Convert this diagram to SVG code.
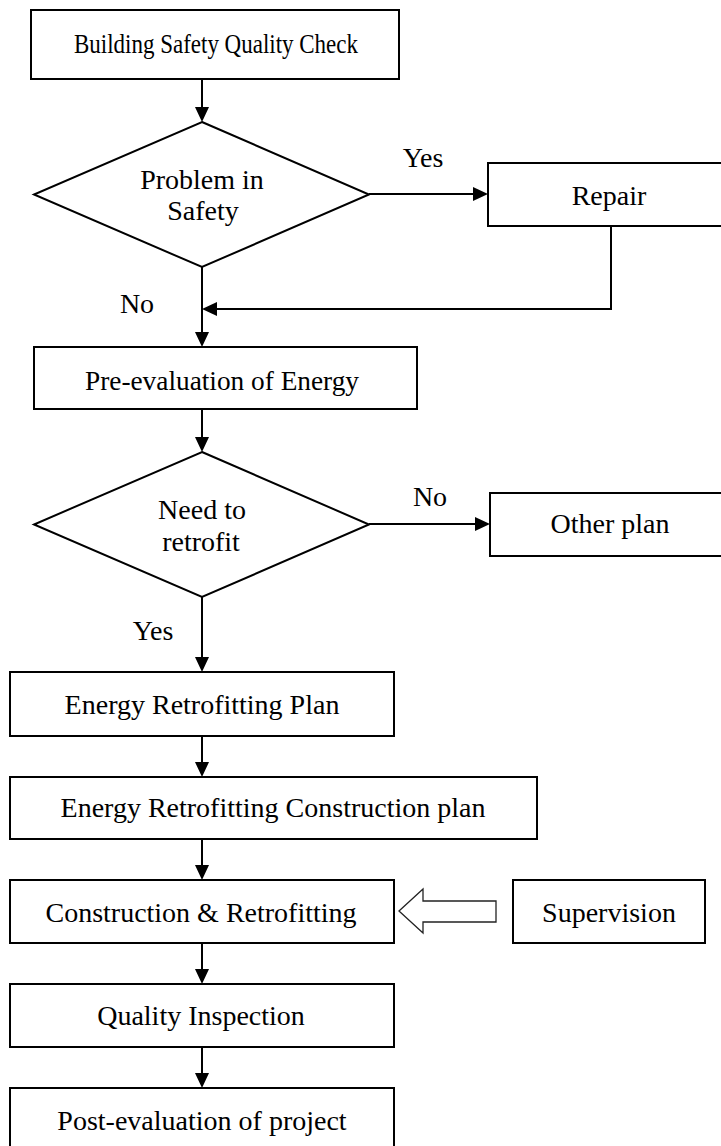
<svg xmlns="http://www.w3.org/2000/svg" width="721" height="1146" viewBox="0 0 721 1146">
<style>
.box{fill:#fff;stroke:#000;stroke-width:2}
.t{font-family:"Liberation Serif","Times New Roman",serif;font-size:28px;fill:#000;text-anchor:middle}
.c{fill:none;stroke:#000;stroke-width:2}
</style>
<defs>
<marker id="ah" markerUnits="userSpaceOnUse" markerWidth="16" markerHeight="14" refX="0" refY="7" orient="auto">
<path d="M0,0 L15,7 L0,14 Z" fill="#000"/>
</marker>
</defs>
<rect width="721" height="1146" fill="#fff"/>
<g id="connectors">
<path class="c" d="M202,79 V107" marker-end="url(#ah)"/>
<path class="c" d="M369,194 H473" marker-end="url(#ah)"/>
<path class="c" d="M611,226 V309 H217" marker-end="url(#ah)"/>
<path class="c" d="M202,267 V332" marker-end="url(#ah)"/>
<path class="c" d="M202,409 V437" marker-end="url(#ah)"/>
<path class="c" d="M369,524 H475" marker-end="url(#ah)"/>
<path class="c" d="M202,597 V657" marker-end="url(#ah)"/>
<path class="c" d="M202,736 V762" marker-end="url(#ah)"/>
<path class="c" d="M202,839 V865" marker-end="url(#ah)"/>
<path class="c" d="M202,943 V969" marker-end="url(#ah)"/>
<path class="c" d="M202,1047 V1073" marker-end="url(#ah)"/>
<polygon points="399,911 423,889 423,901 496,901 496,922 423,922 423,933" fill="#fff" stroke="#222" stroke-width="1.3"/>
<text class="t" x="423" y="167">Yes</text>
<text class="t" x="137" y="313">No</text>
<text class="t" x="430" y="506">No</text>
<text class="t" x="153" y="640">Yes</text>
</g>
<g id="n-check"><rect class="box" x="31" y="10" width="368" height="69"/><text class="t" x="216" y="53" style="font-size:26.5px" textLength="284" lengthAdjust="spacingAndGlyphs">Building Safety Quality Check</text></g>
<g id="n-problem"><polygon class="box" points="202,122 369,194.5 202,267 34,194.5"/><text class="t" x="202" y="189">Problem in</text><text class="t" x="203" y="220">Safety</text></g>
<g id="n-repair"><rect class="box" x="488" y="163" width="260" height="63"/><text class="t" x="609" y="205">Repair</text></g>
<g id="n-preeval"><rect class="box" x="34" y="347" width="383" height="62"/><text class="t" x="222" y="390" textLength="274" lengthAdjust="spacingAndGlyphs">Pre-evaluation of Energy</text></g>
<g id="n-need"><polygon class="box" points="202,452 369,524.5 202,597 34,524.5"/><text class="t" x="202" y="519">Need to</text><text class="t" x="201" y="551">retrofit</text></g>
<g id="n-other"><rect class="box" x="490" y="493" width="260" height="63"/><text class="t" x="610" y="533">Other plan</text></g>
<g id="n-erp"><rect class="box" x="10" y="672" width="384" height="64"/><text class="t" x="202" y="714">Energy Retrofitting Plan</text></g>
<g id="n-ercp"><rect class="box" x="10" y="777" width="527" height="62"/><text class="t" x="273" y="817">Energy Retrofitting Construction plan</text></g>
<g id="n-cr"><rect class="box" x="10" y="880" width="384" height="63"/><text class="t" x="201" y="922">Construction &amp; Retrofitting</text></g>
<g id="n-super"><rect class="box" x="513" y="880" width="192" height="63"/><text class="t" x="609" y="922">Supervision</text></g>
<g id="n-qi"><rect class="box" x="10" y="984" width="384" height="63"/><text class="t" x="201" y="1025">Quality Inspection</text></g>
<g id="n-post"><rect class="box" x="10" y="1088" width="384" height="70"/><text class="t" x="202" y="1130">Post-evaluation of project</text></g>
</svg>
